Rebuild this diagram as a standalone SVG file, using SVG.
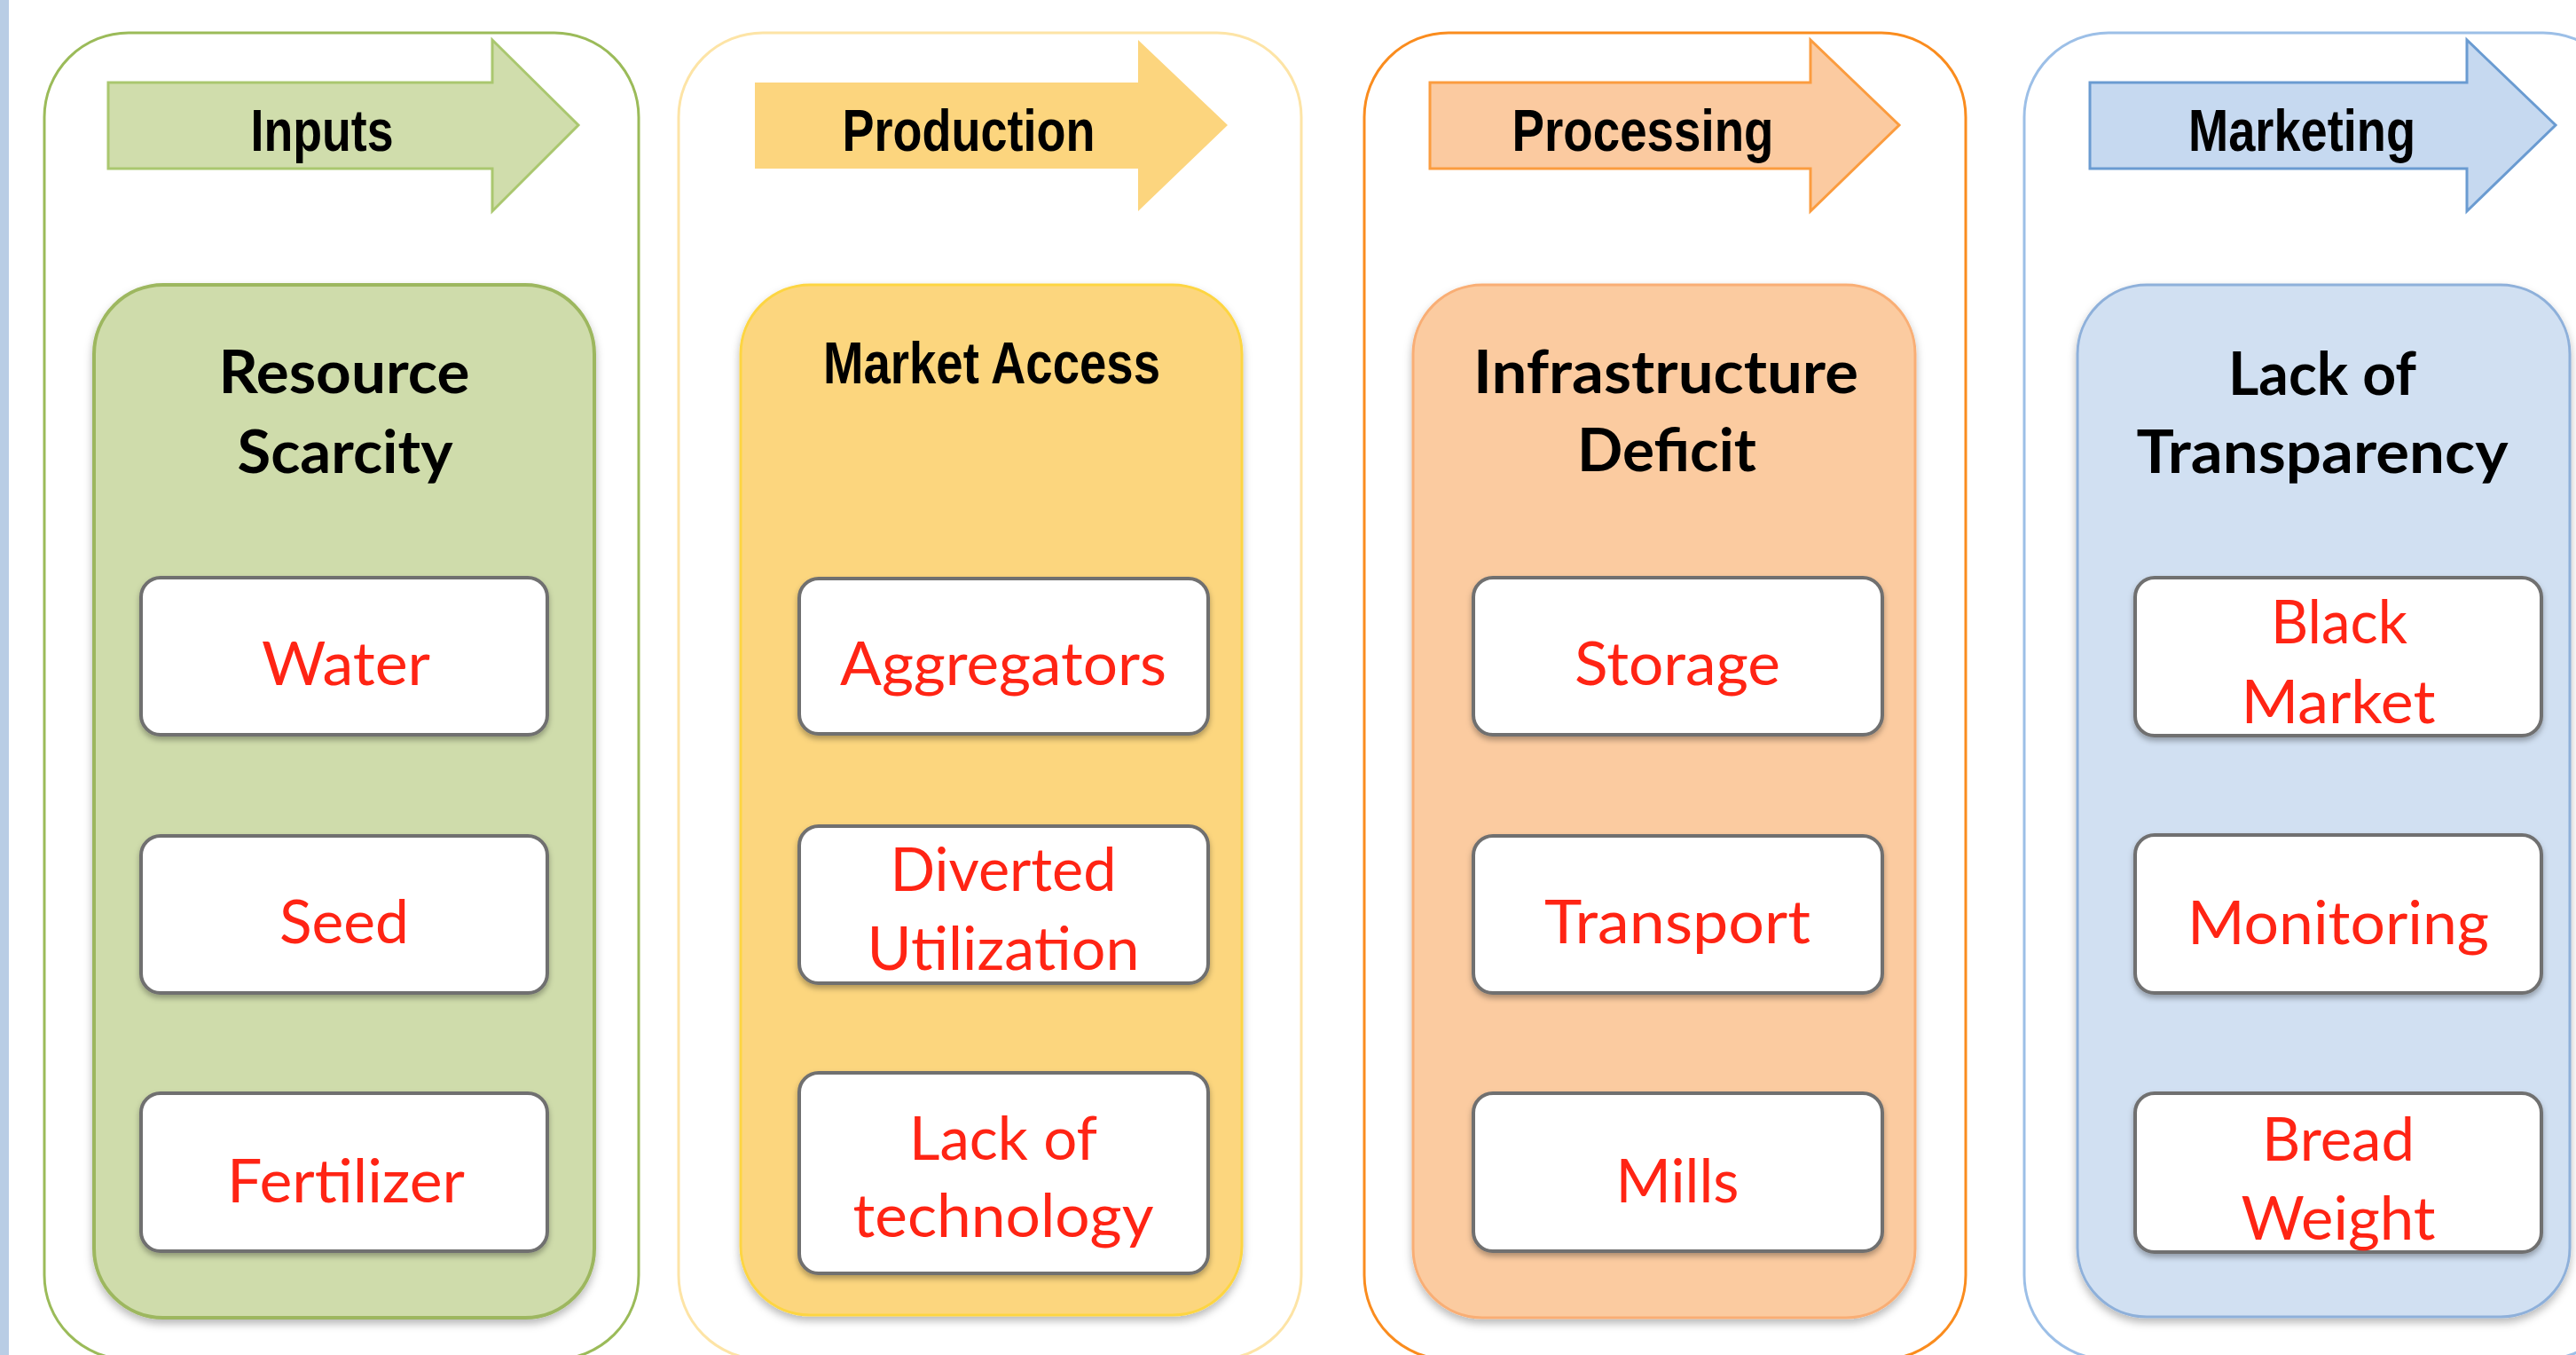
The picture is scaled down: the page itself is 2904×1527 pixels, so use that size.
<svg xmlns="http://www.w3.org/2000/svg" width="2904" height="1527" viewBox="0 0 2904 1527">
<style>
.arrowLbl{font-family:"Liberation Sans",Arial,sans-serif;font-weight:bold;font-size:66px;fill:#000;text-anchor:middle}
.title{font-family:Lato,"Open Sans",sans-serif;font-weight:bold;font-size:66px;fill:#000;text-anchor:middle}
.item{font-family:Lato,"Open Sans",sans-serif;font-size:68px;fill:#ff2414;text-anchor:middle}
.box{fill:#fff;stroke:#6f6f6f;stroke-width:4}
.outer{fill:#fff;stroke-width:3}
</style>
<defs>
<filter id="sh" x="-10%" y="-10%" width="120%" height="120%">
<feDropShadow dx="0" dy="5" stdDeviation="5" flood-color="#000" flood-opacity="0.28"/>
</filter>
<filter id="sh2" x="-10%" y="-20%" width="120%" height="140%">
<feDropShadow dx="0" dy="4" stdDeviation="3" flood-color="#000" flood-opacity="0.3"/>
</filter>
</defs>
<rect x="0" y="0" width="2904" height="1527" fill="#fff"/>
<rect x="0" y="0" width="10" height="1527" fill="#b9cde5"/>

<g id="col-inputs">
<rect class="outer" x="50" y="37" width="670" height="1495" rx="95" ry="95" stroke="#9bbb59"/>
<path d="M122,93 H555 V45 L652,141 L555,238 V190 H122 Z" fill="#d0ddac" stroke="#aac76f" stroke-width="3"/>
<text class="arrowLbl" x="363" y="170" textLength="161" lengthAdjust="spacingAndGlyphs">Inputs</text>
<rect x="106" y="321" width="564" height="1164" rx="78" ry="78" fill="#cfdcab" stroke="#9db75f" stroke-width="4" filter="url(#sh)"/>
<text class="title" x="388" y="443" textLength="283" lengthAdjust="spacingAndGlyphs">Resource</text>
<text class="title" x="389" y="533" textLength="243" lengthAdjust="spacingAndGlyphs">Scarcity</text>
<g id="water"><rect class="box" x="159" y="651" width="458" height="177" rx="22" filter="url(#sh2)"/>
<text class="item" x="390" y="772" textLength="190" lengthAdjust="spacingAndGlyphs">Water</text></g>
<g id="seed"><rect class="box" x="159" y="942" width="458" height="177" rx="22" filter="url(#sh2)"/>
<text class="item" x="388" y="1063" textLength="146" lengthAdjust="spacingAndGlyphs">Seed</text></g>
<g id="fertilizer"><rect class="box" x="159" y="1232" width="458" height="178" rx="22" filter="url(#sh2)"/>
<text class="item" x="390" y="1355" textLength="268" lengthAdjust="spacingAndGlyphs">Fertilizer</text></g>
</g>

<g id="col-production">
<rect class="outer" x="765" y="37" width="702" height="1495" rx="95" ry="95" stroke="#fde4a6"/>
<path d="M851,93 H1283 V45 L1384,141 L1283,238 V190 H851 Z" fill="#fcd57e"/>
<text class="arrowLbl" x="1092" y="170" textLength="285" lengthAdjust="spacingAndGlyphs">Production</text>
<rect x="835" y="321" width="565" height="1161" rx="78" ry="78" fill="#fcd67e" stroke="#fdd542" stroke-width="3" filter="url(#sh)"/>
<text class="arrowLbl" x="1118" y="432" textLength="380" lengthAdjust="spacingAndGlyphs">Market Access</text>
<g id="aggregators"><rect class="box" x="901" y="652" width="461" height="175" rx="22" filter="url(#sh2)"/>
<text class="item" x="1131" y="772" textLength="368" lengthAdjust="spacingAndGlyphs">Aggregators</text></g>
<g id="diverted"><rect class="box" x="901" y="931" width="461" height="177" rx="22" filter="url(#sh2)"/>
<text class="item" x="1131" y="1004" textLength="255" lengthAdjust="spacingAndGlyphs">Diverted</text>
<text class="item" x="1131" y="1093" textLength="307" lengthAdjust="spacingAndGlyphs">Utilization</text></g>
<g id="lacktech"><rect class="box" x="901" y="1209" width="461" height="226" rx="22" filter="url(#sh2)"/>
<text class="item" x="1131" y="1307" textLength="212" lengthAdjust="spacingAndGlyphs">Lack of</text>
<text class="item" x="1131" y="1394" textLength="339" lengthAdjust="spacingAndGlyphs">technology</text></g>
</g>

<g id="col-processing">
<rect class="outer" x="1538" y="37" width="678" height="1495" rx="95" ry="95" stroke="#fa8c1e"/>
<path d="M1612,93 H2041 V45 L2141,141 L2041,238 V190 H1612 Z" fill="#fbcaa0" stroke="#fb9c3f" stroke-width="3"/>
<text class="arrowLbl" x="1852" y="170" textLength="295" lengthAdjust="spacingAndGlyphs">Processing</text>
<rect x="1593" y="321" width="566" height="1164" rx="78" ry="78" fill="#fbcba0" stroke="#f9ae74" stroke-width="3" filter="url(#sh)"/>
<text class="title" x="1878" y="443" textLength="434" lengthAdjust="spacingAndGlyphs">Infrastructure</text>
<text class="title" x="1879" y="531" textLength="202" lengthAdjust="spacingAndGlyphs">Deficit</text>
<g id="storage"><rect class="box" x="1661" y="651" width="461" height="177" rx="22" filter="url(#sh2)"/>
<text class="item" x="1891" y="772" textLength="232" lengthAdjust="spacingAndGlyphs">Storage</text></g>
<g id="transport"><rect class="box" x="1661" y="942" width="461" height="177" rx="22" filter="url(#sh2)"/>
<text class="item" x="1891" y="1063" textLength="300" lengthAdjust="spacingAndGlyphs">Transport</text></g>
<g id="mills"><rect class="box" x="1661" y="1232" width="461" height="178" rx="22" filter="url(#sh2)"/>
<text class="item" x="1891" y="1355" textLength="139" lengthAdjust="spacingAndGlyphs">Mills</text></g>
</g>

<g id="col-marketing">
<rect class="outer" x="2282" y="37" width="680" height="1495" rx="95" ry="95" stroke="#9cbfe7"/>
<path d="M2356,93 H2781 V45 L2881,141 L2781,238 V190 H2356 Z" fill="#c6d9f0" stroke="#6a9bd1" stroke-width="3"/>
<text class="arrowLbl" x="2595" y="170" textLength="256" lengthAdjust="spacingAndGlyphs">Marketing</text>
<rect x="2342" y="321" width="555" height="1163" rx="78" ry="78" fill="#d1e0f2" stroke="#8eb0da" stroke-width="3" filter="url(#sh)"/>
<text class="title" x="2618" y="445" textLength="212" lengthAdjust="spacingAndGlyphs">Lack of</text>
<text class="title" x="2618" y="533" textLength="419" lengthAdjust="spacingAndGlyphs">Transparency</text>
<g id="blackmarket"><rect class="box" x="2407" y="651" width="458" height="178" rx="22" filter="url(#sh2)"/>
<text class="item" x="2637" y="725" textLength="154" lengthAdjust="spacingAndGlyphs">Black</text>
<text class="item" x="2636" y="815" textLength="219" lengthAdjust="spacingAndGlyphs">Market</text></g>
<g id="monitoring"><rect class="box" x="2407" y="941" width="458" height="178" rx="22" filter="url(#sh2)"/>
<text class="item" x="2636" y="1064" textLength="340" lengthAdjust="spacingAndGlyphs">Monitoring</text></g>
<g id="breadweight"><rect class="box" x="2407" y="1232" width="458" height="179" rx="22" filter="url(#sh2)"/>
<text class="item" x="2636" y="1308" textLength="172" lengthAdjust="spacingAndGlyphs">Bread</text>
<text class="item" x="2636" y="1397" textLength="219" lengthAdjust="spacingAndGlyphs">Weight</text></g>
</g>

<g id="connectors"></g>
</svg>
